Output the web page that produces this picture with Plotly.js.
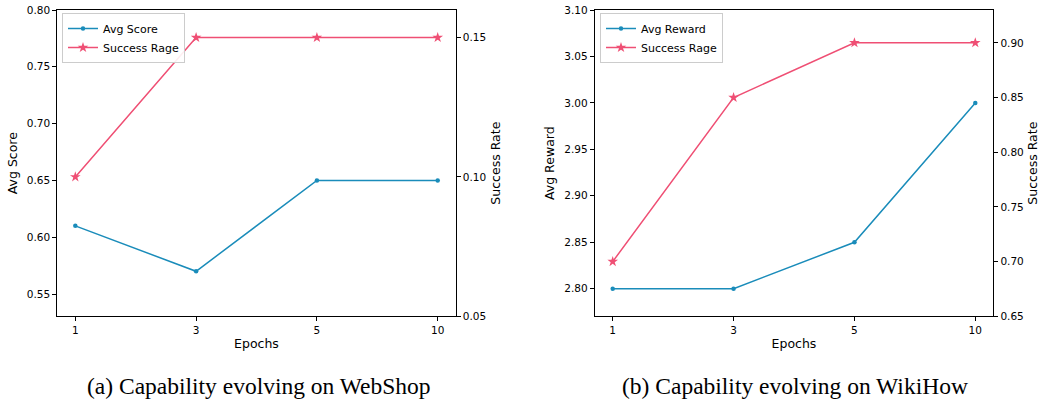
<!DOCTYPE html>
<html><head><meta charset="utf-8">
<script src="https://cdn.plot.ly/plotly-3.0.1.min.js"></script>
<style>html,body{margin:0;padding:0;background:#fff}#c{width:1040px;height:402px}</style>
</head><body><div id="c"></div>
<script>
const epochs = ["1", "3", "5", "10"];
const webshopAvgScore = [0.61, 0.57, 0.65, 0.65];
const webshopSuccess = [0.10, 0.15, 0.15, 0.15];
const wikihowAvgReward = [2.80, 2.80, 2.85, 3.00];
const wikihowSuccess = [0.70, 0.85, 0.90, 0.90];

const BLUE = '#1a8cba', PINK = '#ef4f74';
const W = 1040, H = 402;
const px = v => v / W, py = v => 1 - v / H;
const font = {family: 'DejaVu Sans', size: 10.5, color: '#000'};

const blueLine = {mode: 'lines+markers', line: {color: BLUE, width: 1.5}, marker: {symbol: 'circle', size: 4.5, color: BLUE}};
const pinkLine = {mode: 'lines+markers', line: {color: PINK, width: 1.5}, marker: {symbol: 'star', size: 8, color: PINK}};

const data = [
  Object.assign({x: epochs, y: webshopAvgScore, name: 'Avg Score', xaxis: 'x', yaxis: 'y', legend: 'legend'}, blueLine),
  Object.assign({x: epochs, y: webshopSuccess, name: 'Success Rage', xaxis: 'x', yaxis: 'y2', legend: 'legend'}, pinkLine),
  Object.assign({x: epochs, y: wikihowAvgReward, name: 'Avg Reward', xaxis: 'x2', yaxis: 'y3', legend: 'legend2'}, blueLine),
  Object.assign({x: epochs, y: wikihowSuccess, name: 'Success Rage', xaxis: 'x2', yaxis: 'y4', legend: 'legend2'}, pinkLine)
];

const yTop = py(10), yBot = py(316.3);
const axCommon = {showline: true, linecolor: '#000', linewidth: 1, ticks: 'outside', ticklen: 4, tickcolor: '#000', tickwidth: 1, showgrid: false, zeroline: false, tickfont: font};
const xax = (dom, anchor) => Object.assign({}, axCommon, {domain: dom, anchor: anchor, type: 'category', range: [-0.149, 3.149], mirror: true, title: {text: 'Epochs', font: {family: 'DejaVu Sans', size: 12.5, color: '#000'}, standoff: 4}});
const yl = (anchor, range, dtick, title, fmt) => Object.assign({}, axCommon, {domain: [yBot, yTop], anchor: anchor, range: range, dtick: dtick, tick0: 0, tickformat: fmt, title: {text: title, font: {family: 'DejaVu Sans', size: 12.5, color: '#000'}, standoff: 6}});

const legendBase = {bgcolor: 'rgba(255,255,255,0.9)', bordercolor: '#cccccc', borderwidth: 1, xanchor: 'left', yanchor: 'top', font: {family: 'DejaVu Sans', size: 11, color: '#000'}, tracegroupgap: 0, itemwidth: 30};

const layout = {
  width: W, height: H, margin: {l: 0, r: 0, t: 0, b: 0}, paper_bgcolor: '#fff', plot_bgcolor: '#fff',
  showlegend: true,
  xaxis: xax([px(57.3), px(455.7)], 'y'),
  yaxis: yl('x', [0.5304, 0.80], 0.05, 'Avg Score', '.2f'),
  yaxis2: Object.assign(yl('x', [0.05, 0.1599], 0.05, 'Success Rate', '.2f'), {overlaying: 'y', side: 'right'}),
  xaxis2: xax([px(594.7), px(993.3)], 'y3'),
  yaxis3: yl('x2', [2.7703, 3.10], 0.05, 'Avg Reward', '.2f'),
  yaxis4: Object.assign(yl('x2', [0.65, 0.930], 0.05, 'Success Rate', '.2f'), {overlaying: 'y3', side: 'right'}),
  legend: Object.assign({x: px(62), y: py(13)}, legendBase),
  legend2: Object.assign({x: px(600), y: py(13)}, legendBase),
  annotations: [
    {text: '(a) Capability evolving on WebShop', x: px(259), y: py(386), xref: 'paper', yref: 'paper', showarrow: false, xanchor: 'center', yanchor: 'middle', font: {family: 'Liberation Serif', size: 23.5, color: '#000'}},
    {text: '(b) Capability evolving on WikiHow', x: px(795), y: py(386), xref: 'paper', yref: 'paper', showarrow: false, xanchor: 'center', yanchor: 'middle', font: {family: 'Liberation Serif', size: 23.5, color: '#000'}}
  ]
};

Plotly.newPlot('c', data, layout, {staticPlot: true, displayModeBar: false});
</script></body></html>
